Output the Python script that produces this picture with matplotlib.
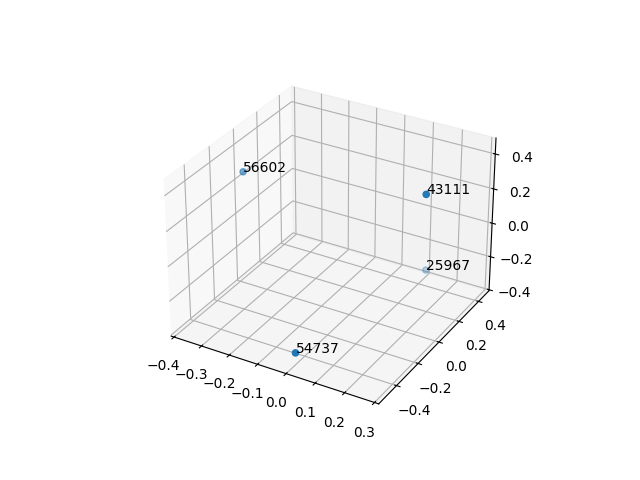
import matplotlib
matplotlib.use("Agg")
import matplotlib.pyplot as plt

# point ids and their 3D coordinates
labels = ["56602", "43111", "25967", "54737"]
xs = [-0.378, 0.227, 0.110, 0.017]
ys = [-0.003, 0.088, 0.444, -0.520]
zs = [0.259, 0.353, -0.343, -0.301]


def main():
    fig = plt.figure(figsize=(6.4, 4.8), dpi=100)
    ax = fig.add_subplot(projection="3d")

    ax.scatter(xs, ys, zs)
    for x, y, z, lab in zip(xs, ys, zs, labels):
        ax.text(x, y, z, lab)

    ax.set_xlim(-0.411, 0.314)
    ax.set_ylim(-0.56, 0.51)
    ax.set_zlim(-0.406, 0.49)

    fig.savefig("out.png", dpi=100)


if __name__ == "__main__":
    main()
